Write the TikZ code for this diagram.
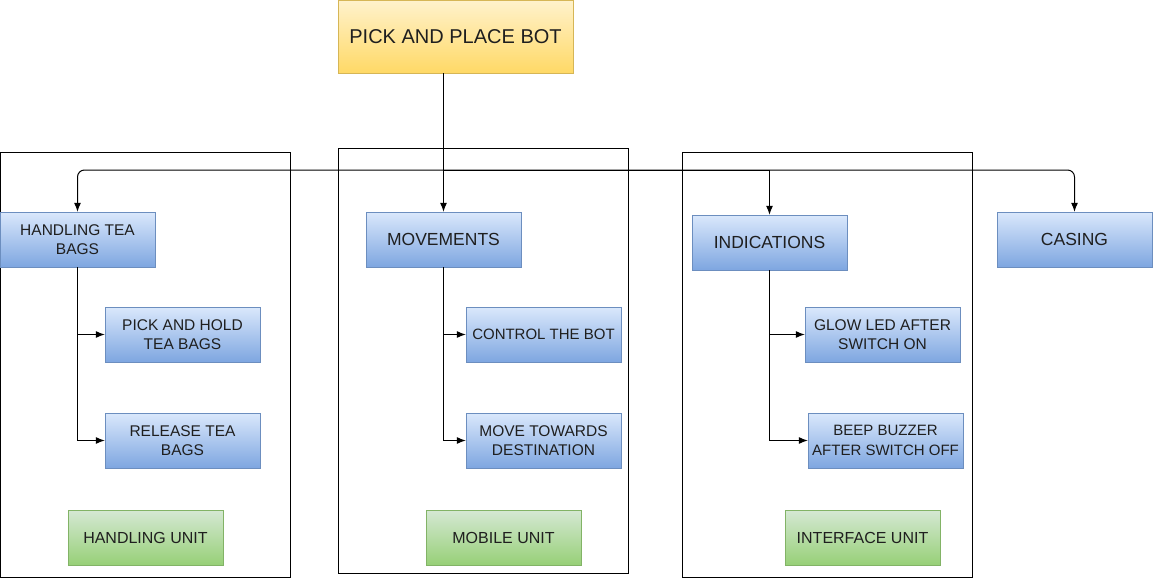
\documentclass[tikz,border=0pt]{standalone}
\usepackage{fontspec}
\setmainfont{Liberation Sans}
\usetikzlibrary{arrows.meta}

\definecolor{yellowtop}{HTML}{FFF2CC}
\definecolor{yellowbot}{HTML}{FFD966}
\definecolor{yellowline}{HTML}{D6B656}
\definecolor{bluetop}{HTML}{DAE8FC}
\definecolor{bluebot}{HTML}{7EA6E0}
\definecolor{blueline}{HTML}{6C8EBF}
\definecolor{greentop}{HTML}{D5E8D4}
\definecolor{greenbot}{HTML}{97D077}
\definecolor{greenline}{HTML}{82B366}

\begin{document}
\begin{tikzpicture}[x=1pt,y=-1pt,
    label text/.style={font=\fontsize{15.5}{19.5}\selectfont,text=black!88,align=center},
    head text/.style={font=\fontsize{17.5}{21}\selectfont,text=black!88,align=center},
    bluebox/.style={draw=blueline,top color=bluetop,bottom color=bluebot,
        minimum width=155pt,minimum height=55pt,inner sep=2pt},
    greenbox/.style={draw=greenline,top color=greentop,bottom color=greenbot,
        minimum width=155pt,minimum height=55pt,inner sep=2pt,label text,
        font=\fontsize{16}{19.5}\selectfont},
    link/.style={draw,line width=1pt,-{Latex[length=9pt,width=7pt]}}]
        \useasboundingbox (0,0) rectangle (1153,578);

        % Unit frames
        \draw [line width=1pt] (0.5,152) rectangle (290,577);
        \draw [line width=1pt] (338,148) rectangle (628,573);
        \draw [line width=1pt] (682,152) rectangle (972,577);

        % Top block
        \node [draw=yellowline,top color=yellowtop,bottom color=yellowbot,
            minimum width=235pt,minimum height=73pt,
            font=\fontsize{20}{24}\selectfont,text=black!88]
            (bot) at (455.5,36.5) {PICK AND PLACE BOT};

        % Functions
        \node [bluebox,label text] (hand) at (77.5,239.5) {HANDLING TEA\\BAGS};
        \node [bluebox,head text] (mov) at (443.5,239.5) {MOVEMENTS};
        \node [bluebox,head text] (ind) at (769.5,242.5) {INDICATIONS};
        \node [bluebox,head text] (cas) at (1074.5,239.5) {CASING};

        \node [bluebox,label text] (pick) at (182.5,334.5) {PICK AND HOLD\\TEA BAGS};
        \node [bluebox,label text] (rel) at (182.5,440.5) {RELEASE TEA\\BAGS};
        \node [bluebox,label text,font=\fontsize{15}{19}\selectfont] (ctrl) at (543.5,334.5) {CONTROL THE BOT};
        \node [bluebox,label text] (move) at (543.5,440.5) {MOVE TOWARDS\\DESTINATION};
        \node [bluebox,label text] (glow) at (882.5,334.5) {GLOW LED AFTER\\SWITCH ON};
        \node [bluebox,label text,font=\fontsize{15}{19.5}\selectfont] (beep) at (885.5,440.5) {BEEP BUZZER\\AFTER SWITCH OFF};

        % Units
        \node [greenbox] (hunit) at (145.5,537.5) {HANDLING UNIT};
        \node [greenbox] (munit) at (503.5,537.5) {MOBILE UNIT};
        \node [greenbox] (iunit) at (862.5,537.5) {INTERFACE UNIT};

        % Connectors
        \coordinate (split) at (443.5,170);
        \draw [link] (bot.south -| mov.north) -- (mov.north);
        \draw [link,rounded corners=7pt] (split) -| (hand.north);
        \draw [link] (split) -| (ind.north);
        \draw [link,rounded corners=7pt] (split) -| (cas.north);

        \draw [link] (hand.south) |- (pick.west);
        \draw [link] (hand.south) |- (rel.west);
        \draw [link] (mov.south) |- (ctrl.west);
        \draw [link] (mov.south) |- (move.west);
        \draw [link] (ind.south) |- (glow.west);
        \draw [link] (ind.south) |- (beep.west);
    \end{tikzpicture}
\end{document}
